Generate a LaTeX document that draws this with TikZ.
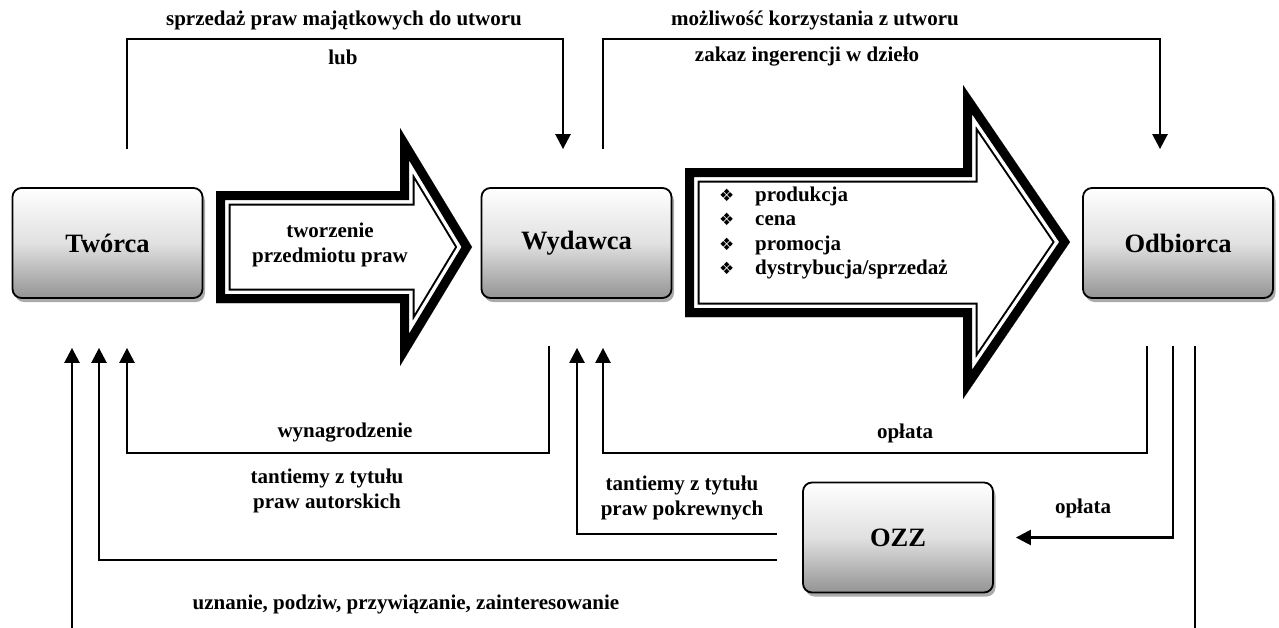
\documentclass[tikz,border=0pt]{standalone}
\usepackage{fontspec}
\setmainfont{Liberation Serif}
\newfontfamily\dejavu{DejaVu Sans}
\usetikzlibrary{arrows.meta,shadows,calc}
\newcommand\blockarrow[1]{%
  \begin{scope}
    \clip #1;
    \fill[white] #1;
    \draw[line width=29pt,line join=miter] #1;
    \draw[white,line width=25pt,line join=miter] #1;
    \draw[line width=18pt,line join=miter] #1;
  \end{scope}}
\newcommand\bul{\makebox[36pt][l]{\dejavu\fontsize{17}{17}\selectfont ❖}}
\tikzset{
  box/.style={draw=black,line width=1.8pt,rounded corners=9pt,
    minimum width=190pt,minimum height=110pt,inner sep=0pt,
    top color=white,bottom color=black!42,middle color=black!12,
    drop shadow={shadow xshift=2.5pt,shadow yshift=-4pt,fill=black!55,opacity=.6},
    font=\fontsize{26.5}{30}\selectfont\bfseries},
  lbl/.style={font=\fontsize{21}{24.5}\selectfont\bfseries,inner sep=0pt,align=center},
  conn/.style={line width=2.5pt},
  arr/.style={conn,-{Triangle[length=15pt,width=15pt]}}
}
\begin{document}
\begin{tikzpicture}[x=1pt,y=-1pt]
\useasboundingbox (0,0) rectangle (1279,627);
\clip (0,0) rectangle (1279,627);
\fill[white] (0,0) rectangle (1279,627);

% block arrows
\blockarrow{(216,191) -- (400,191) -- (400,128) -- (472,247) -- (400,366) -- (400,303) -- (216,303) -- cycle}
\blockarrow{(685,168) -- (963,168) -- (963,85) -- (1070,242) -- (963,399) -- (963,317) -- (685,317) -- cycle}

% boxes
\node[box] (tw) at (107.5,243) {Twórca};
\node[box] (wy) at (576.5,243) {Wydawca};
\node[box] (od) at (1178,243) {Odbiorca};
\node[box] (ozz) at (898,537.5) {OZZ};

% arrow texts
\node[lbl] (a1) at (330,245) {tworzenie\\przedmiotu praw};
\node[lbl,align=left,anchor=west] (a2) at (719,233)
  {\bul produkcja\\\bul cena\\\bul promocja\\\bul dystrybucja/sprzedaż};

% top connectors
\draw[arr] ([xshift=19.5pt,yshift=38pt]tw.north) |- (563,39) -- ([xshift=-13.5pt,yshift=38pt]wy.north);
\draw[arr] ([xshift=26.5pt,yshift=38pt]wy.north) |- (1160,39) -- ([xshift=-18pt,yshift=38pt]od.north);

% bottom connectors
\draw[arr] ([xshift=-27.5pt,yshift=-47pt]wy.south) |- (127,453) -- ([xshift=19.5pt,yshift=-49pt]tw.south);
\draw[arr] ([xshift=-31pt,yshift=-47pt]od.south) |- (603,453) -- ([xshift=26.5pt,yshift=-49pt]wy.south);
\draw[arr] ([xshift=-5pt,yshift=-47pt]od.south) |- ([xshift=22pt]ozz.east);
\draw[arr] ([xshift=-25pt,yshift=3.5pt]ozz.west) -| ([xshift=0.5pt,yshift=-49pt]wy.south);
\draw[arr] ([xshift=-25pt,yshift=-22.5pt]ozz.west) -| ([xshift=-8.5pt,yshift=-49pt]tw.south);
\draw[arr] ([xshift=17pt,yshift=-47pt]od.south) -- (1195,660) -| ([xshift=-35.5pt,yshift=-49pt]tw.south);

% labels
\node[lbl] (l1) at (344,20) {sprzedaż praw majątkowych do utworu};
\node[lbl] (l2) at (343,57) {lub};
\node[lbl] (l3) at (815,20) {możliwość korzystania z utworu};
\node[lbl] (l4) at (807,57) {zakaz ingerencji w dzieło};
\node[lbl] (l5) at (345,433) {wynagrodzenie};
\node[lbl] (l6) at (905,433) {opłata};
\node[lbl] (l7) at (327,491) {tantiemy z tytułu\\praw autorskich};
\node[lbl] (l8) at (682,498) {tantiemy z tytułu\\praw pokrewnych};
\node[lbl] (l9) at (1083,508) {opłata};
\node[lbl] (l10) at (406,604) {uznanie, podziw, przywiązanie, zainteresowanie};
\end{tikzpicture}
\end{document}
